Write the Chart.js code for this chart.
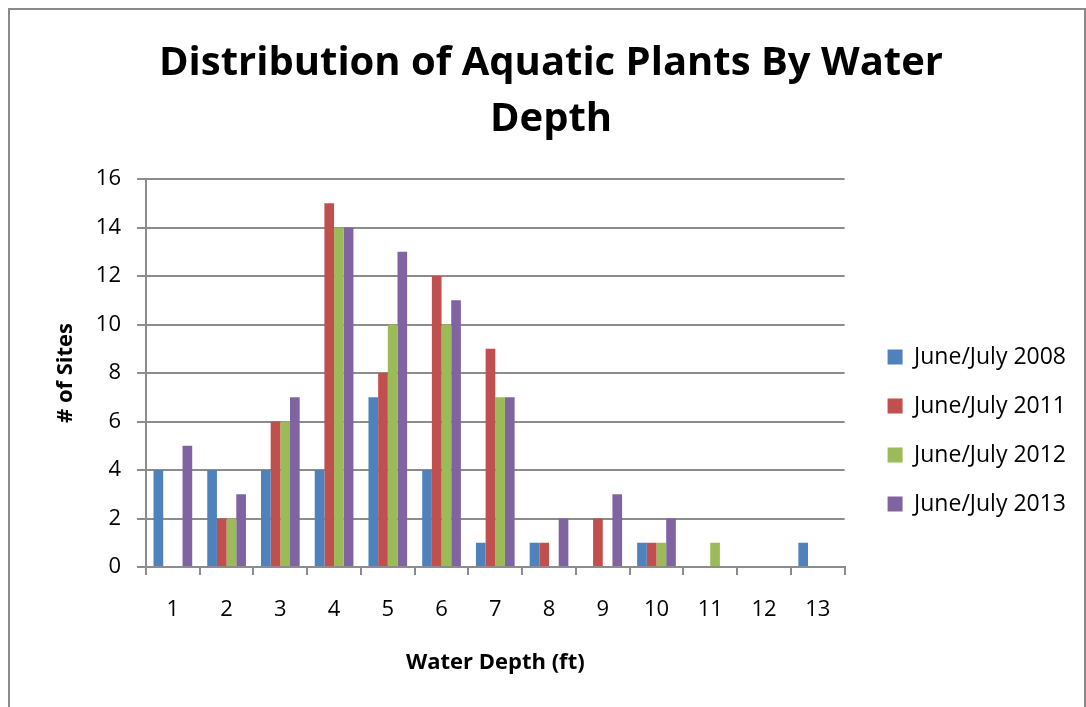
<!DOCTYPE html>
<html>
<head>
<meta charset="utf-8">
<script src="https://cdn.jsdelivr.net/npm/chart.js@4.4.0/dist/chart.umd.min.js"></script>
<style>
  html, body { margin: 0; padding: 0; background: #fff; }
  #wrap { position: relative; width: 1086px; height: 707px; overflow: hidden; }
  #frame { position: absolute; left: 8px; top: 8px; width: 1074px; height: 720px; border: 2px solid #8a8a8a; pointer-events: none; }
  canvas { position: absolute; left: 0; top: 0; }
</style>
</head>
<body>
<div id="wrap">
  <canvas id="depthChart" width="1086" height="707"></canvas>
  <div id="frame"></div>
</div>
<script>
// ---- chart data ----
const depths = ['1', '2', '3', '4', '5', '6', '7', '8', '9', '10', '11', '12', '13'];
const seriesNames = ['June/July 2008', 'June/July 2011', 'June/July 2012', 'June/July 2013'];
const sites2008 = [4, 4, 4, 4, 7, 4, 1, 1, 0, 1, 0, 0, 1];
const sites2011 = [0, 2, 6, 15, 8, 12, 9, 1, 2, 1, 0, 0, 0];
const sites2012 = [0, 2, 6, 14, 10, 10, 7, 0, 0, 1, 1, 0, 0];
const sites2013 = [5, 3, 7, 14, 13, 11, 7, 2, 3, 2, 0, 0, 0];
const yTicks = [0, 2, 4, 6, 8, 10, 12, 14, 16];

const seriesColors = ['#4F81BD', '#C0504D', '#9BBB59', '#8064A2'];
const allSeries = [sites2008, sites2011, sites2012, sites2013];

const fontFamily = "'Open Sans', 'Liberation Sans', sans-serif";
const gridColor = '#8c8c8c';

const ctx = document.getElementById('depthChart');

new Chart(ctx, {
    type: 'bar',
    data: {
        labels: depths,
        datasets: allSeries.map((vals, i) => ({
            label: seriesNames[i],
            data: vals,
            backgroundColor: seriesColors[i],
            borderWidth: 0,
            barPercentage: 1.0,
            categoryPercentage: 0.72
        }))
    },
    options: {
        responsive: false,
        animation: false,
        layout: { padding: { left: 26, right: 10, top: 0, bottom: 31 } },
        plugins: {
            title: {
                display: true,
                text: ['Distribution of Aquatic Plants By Water', 'Depth'],
                color: '#000',
                font: { family: fontFamily, size: 40, weight: 'bold', lineHeight: 1.4 },
                padding: { top: 36, bottom: 31 }
            },
            legend: {
                position: 'right',
                // empty legend title only pushes the entries down to where the original has them
                title: { display: true, text: ' ', font: { size: 10, lineHeight: 1.2 }, padding: { top: 173, bottom: 0 } },
                labels: {
                    color: '#000',
                    font: { family: fontFamily, size: 23 },
                    boxWidth: 15,
                    boxHeight: 15,
                    padding: 26
                }
            },
            tooltip: { enabled: false }
        },
        scales: {
            x: {
                grid: { display: true, drawOnChartArea: false, offset: true, color: gridColor, lineWidth: 2, tickLength: 8 },
                border: { color: gridColor, width: 2 },
                ticks: { color: '#000', font: { family: fontFamily, size: 22 }, padding: 22 },
                title: { display: true, text: 'Water Depth (ft)', color: '#000', font: { family: fontFamily, size: 22, weight: 'bold' }, padding: { top: 4, bottom: 0 } },
                afterFit: (scale) => { scale.height = 109; }
            },
            y: {
                min: 0,
                max: 16,
                afterBuildTicks: (scale) => { scale.ticks = yTicks.map(v => ({ value: v })); },
                grid: { color: gridColor, lineWidth: 2, tickLength: 9 },
                border: { color: gridColor, width: 2 },
                ticks: { color: '#000', font: { family: fontFamily, size: 22 }, padding: 16 },
                title: { display: true, text: '# of Sites', color: '#000', font: { family: fontFamily, size: 22, weight: 'bold' }, padding: { top: 27, bottom: 0 } },
                afterFit: (scale) => { scale.width = 120; }
            },
            // hidden spacer between the plot and the legend (not drawn, only takes width)
            gap: {
                type: 'linear',
                position: 'right',
                display: false,
                afterFit: (scale) => { scale.width = 17; }
            }
        }
    }
});
</script>
</body>
</html>
